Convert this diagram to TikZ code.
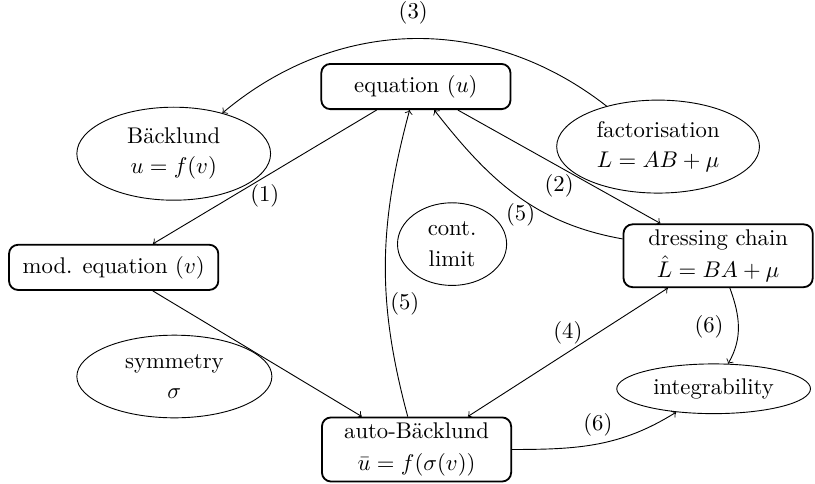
\documentclass[tikz,border=0pt]{standalone}
\usepackage{amsmath,amssymb}
\usetikzlibrary{shapes.geometric}

\begin{document}
\begin{tikzpicture}[
  Eqn/.style={draw,thick,rounded corners,align=center,minimum width=2.93cm,minimum height=0.7cm,inner xsep=6pt,inner ysep=2.5pt,font=\linespread{1.15}\selectfont},
  Idea/.style={draw,ellipse,align=center,inner sep=0pt,font=\linespread{1.12}\selectfont}
]
  % Equations and transformations
  \useasboundingbox (0,0) rectangle (12.62,-7.48);
  \node[Eqn] (Equation) at (6.44,-1.34) {equation $(u)$};
  \node[Eqn] (ModEquation) at (1.76,-4.14) {mod. equation $(v)$};
  \node[Eqn] (Dressing) at (11.12,-3.96) {dressing chain\\ $\hat{L} = BA + \mu$};
  \node[Eqn] (AutoBacklund) at (6.45,-6.96) {auto-Bäcklund\\ $\bar{u} = f(\sigma(v))$};
  \node[Idea,minimum width=3.0cm,minimum height=1.44cm] (Backlund) at (2.69,-2.38) {Bäcklund\\ $u = f(v)$};
  \node[Idea,minimum width=3.14cm,minimum height=1.44cm] (Factor) at (10.19,-2.27) {factorisation\\ $L = AB + \mu$};
  \node[Idea,minimum width=1.69cm,minimum height=1.28cm] (ContLimit) at (7.00,-3.78) {cont.\\ limit};
  \node[Idea,minimum width=3.02cm,minimum height=1.28cm] (Symmetry) at (2.70,-5.83) {symmetry\\ $\sigma$};
  \node[Idea,minimum width=3.0cm,minimum height=0.77cm] (Integrability) at (11.05,-6.02) {integrability};

  \draw[->] (Factor) to[bend right=39] node[above,yshift=3pt] {(3)} (Backlund);
  \draw[->] (Equation) to node[below] {(1)} (ModEquation);
  \draw[->] (Equation) to node[below] {(2)} (Dressing);
  \draw[->] (Dressing) to[out=170,in=-52] node[below,xshift=2pt] {(5)} (Equation);
  \draw[->] (AutoBacklund) to[out=105,in=-105] node[pos=0.36,right,xshift=-2pt] {(5)} (Equation);
  \draw[->] (ModEquation) to (AutoBacklund);
  \draw[<->] (AutoBacklund) to node[above] {(4)} (Dressing);
  \draw[->] (Dressing) to[out=-70,in=60] node[left,xshift=-3pt] {(6)} (Integrability);
  \draw[->] (AutoBacklund) to[out=0,in=-148] node[above] {(6)} (Integrability);
\end{tikzpicture}
\end{document}
